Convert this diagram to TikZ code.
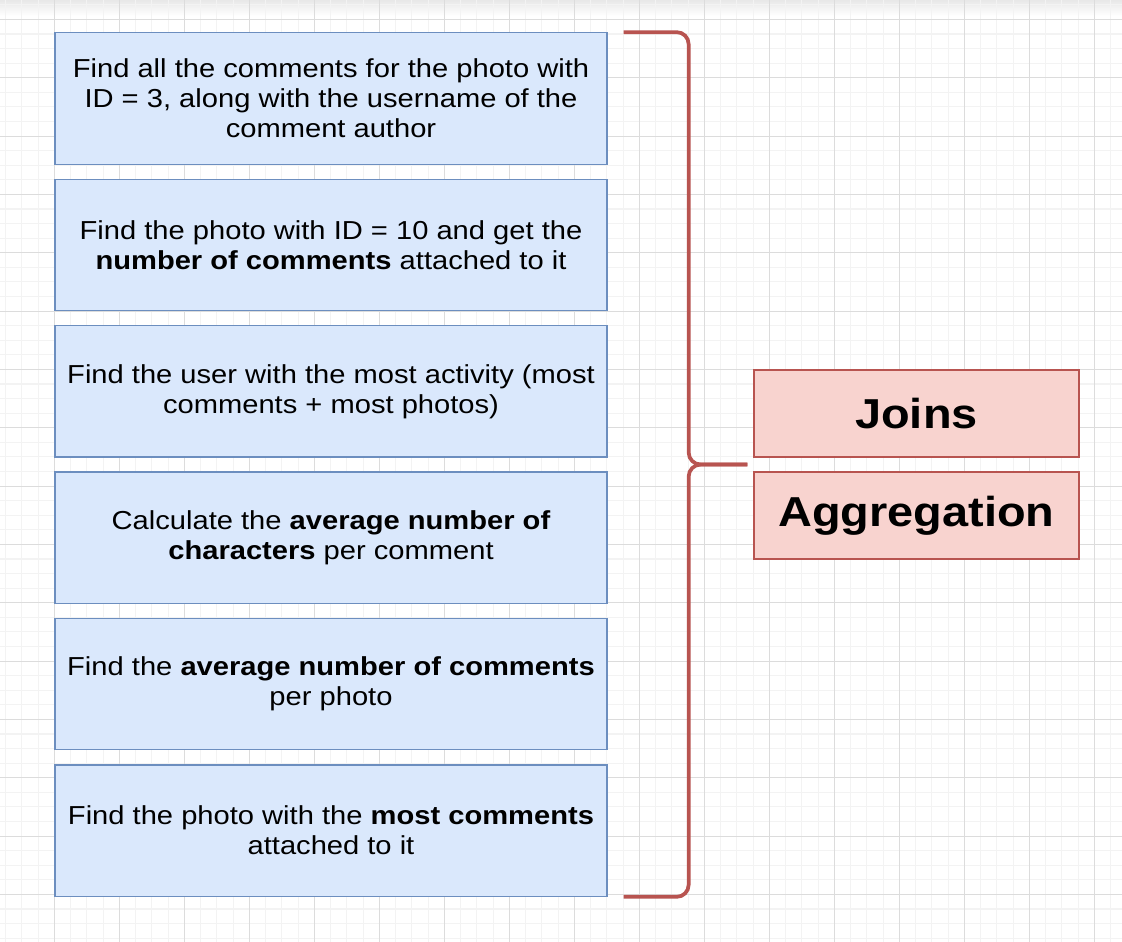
\documentclass[tikz,border=0pt]{standalone}
\usepackage{fontspec}
\setmainfont{Liberation Sans}[FakeStretch=1.12]
\usepackage{xcolor}
\usepackage{tikz}
\usetikzlibrary{positioning, calc}
\definecolor{taskfill}{HTML}{DAE8FC}
\definecolor{taskline}{HTML}{6C8EBF}
\definecolor{topicfill}{HTML}{F8D3CF}
\definecolor{topicline}{HTML}{B85450}
\definecolor{gridlight}{HTML}{F3F3F3}
\definecolor{griddark}{HTML}{DCDCDC}
\tikzstyle{task} = [rectangle, minimum width=414pt, minimum height=98.5pt, align=center, draw=taskline, line width=1pt, fill=taskfill, text=black, font=\fontsize{19.5}{22.5}\selectfont]
\tikzstyle{topic} = [rectangle, minimum width=243.75pt, minimum height=65.25pt, align=center, draw=topicline, line width=1pt, fill=topicfill, text=black, font=\fontsize{31.4}{36}\selectfont\bfseries]
\tikzstyle{brace} = [line width=2.8pt, color=topicline, rounded corners=9pt]
\tikzstyle{gridminor} = [line width=0.8pt, color=gridlight]
\tikzstyle{gridmajor} = [line width=0.8pt, color=griddark]

\begin{document}
\begin{tikzpicture}[x=0.75pt, y=-0.75pt, node distance=10.3pt]
    \useasboundingbox (0,0) rectangle (1122,942);
    \fill[white] (0,0) rectangle (1122,942);
    \shade[top color=gray!18, bottom color=white] (0,0) rectangle (1122,16);
    \foreach \k in {-3,...,65} \draw[gridminor] ({54.3+16.25*\k},0) -- ({54.3+16.25*\k},942);
    \foreach \k in {-1,...,63} \draw[gridminor] (0,{19.4+14.583*\k}) -- (1122,{19.4+14.583*\k});
    \foreach \k in {0,...,16} \draw[gridmajor] ({54.3+65*\k},0) -- ({54.3+65*\k},942);
    \foreach \k in {0,...,15} \draw[gridmajor] (0,{19.4+58.333*\k}) -- (1122,{19.4+58.333*\k});

    \node[task] (q1) at (331,98.5) {Find all the comments for the photo with\\ID = 3, along with the username of the\\comment author};
    \node[task, below=of q1] (q2) {Find the photo with ID = 10 and get the\\\textbf{number of comments} attached to it};
    \node[task, below=of q2] (q3) {Find the user with the most activity (most\\comments + most photos)};
    \node[task, below=of q3] (q4) {Calculate the \textbf{average number of}\\\textbf{characters} per comment};
    \node[task, below=of q4] (q5) {Find the \textbf{average number of comments}\\per photo};
    \node[task, below=of q5] (q6) {Find the photo with the \textbf{most comments}\\attached to it};

    \node[topic] (joins) at (916.5,413.5) {Joins};
    \node[topic, below=of joins] (agg) {Aggregation};

    \coordinate (btop) at ($(q1.north east)+(16,0)$);
    \coordinate (bbot) at ($(q6.south east)+(16,0)$);
    \coordinate (spine) at ($(btop)+(65,0)$);
    \coordinate (tip) at ($(joins.south west)!0.5!(agg.north west)+(-6,0)$);
    \draw[brace] (btop) -- (spine) -- (spine |- tip) -- (tip);
    \draw[brace] (bbot) -- (spine |- bbot) -- (spine |- tip) -- (tip);
\end{tikzpicture}
\end{document}
